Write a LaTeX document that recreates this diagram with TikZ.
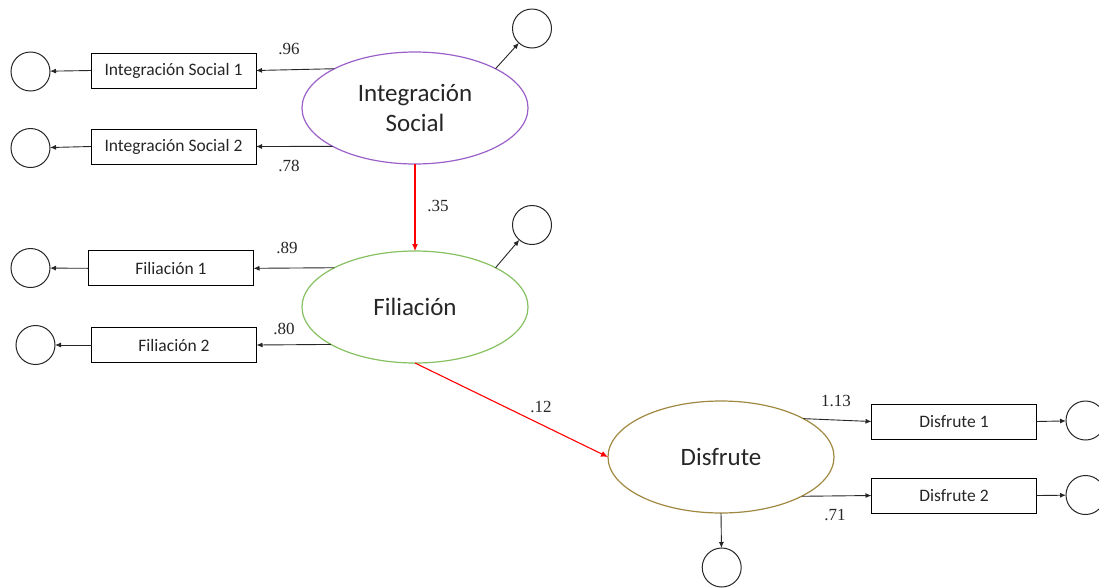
\documentclass[tikz,border=0pt]{standalone}
\usepackage{fontspec}
\newfontfamily\calfont{Carlito}
\newfontfamily\numfont{Liberation Serif}
\usetikzlibrary{shapes.geometric,arrows.meta}

\definecolor{islat}{HTML}{9A5FC8}
\definecolor{fillat}{HTML}{86C060}
\definecolor{dislat}{HTML}{A08840}
\definecolor{ink}{HTML}{262626}

\tikzset{
  latent/.style={ellipse, draw, line width=1.2pt, minimum width=226pt, minimum height=112pt,
    inner sep=0pt, outer sep=0pt, text=ink, align=center,
    font=\calfont\fontsize{25}{30.5}\selectfont},
  indicator/.style={rectangle, draw=black, line width=0.9pt, minimum width=165pt,
    minimum height=35pt, inner sep=0pt, outer sep=0pt, text=ink,
    font=\calfont\fontsize{17.5}{21}\selectfont},
  errterm/.style={circle, draw=ink, line width=1pt, minimum size=39pt, inner sep=0pt, outer sep=0pt},
  load/.style={draw=ink, line width=0.9pt, -{Latex[length=6pt,width=5pt]}},
  regpath/.style={draw=red, line width=1.1pt, -{Latex[length=7pt,width=6pt]}},
  coef/.style={text=ink, font=\numfont\fontsize{17}{20}\selectfont, inner sep=0pt},
}

\begin{document}
\begin{tikzpicture}[x=1pt,y=-1pt]
\useasboundingbox (0,0) rectangle (1099,587);

% latent factors
\node[latent, draw=islat]  (is)  at (415,108) {Integración\\Social};
\node[latent, draw=fillat] (fil) at (415,307) {Filiación};
\node[latent, draw=dislat] (dis) at (721,457) {Disfrute};

% observed indicators
\node[indicator] (is1)  at (173.5,70.5)  {Integración Social 1};
\node[indicator] (is2)  at (173.5,146.5) {Integración Social 2};
\node[indicator] (fil1) at (171,268.3)   {Filiación 1};
\node[indicator] (fil2) at (174,345)     {Filiación 2};
\node[indicator] (d1)   at (954,421.5)   {Disfrute 1};
\node[indicator] (d2)   at (954,495.5)   {Disfrute 2};

% error terms
\node[errterm] (e-is1)  at (30.5,71.5)   {};
\node[errterm] (e-is2)  at (30.5,148)    {};
\node[errterm] (e-fil1) at (30.5,268)    {};
\node[errterm] (e-fil2) at (35.5,345)    {};
\node[errterm] (e-d1)   at (1085.5,420.5) {};
\node[errterm] (e-d2)   at (1085.5,495)  {};
\node[errterm] (z-is)   at (532,28.5)    {};
\node[errterm] (z-fil)  at (532,225)     {};
\node[errterm] (z-dis)  at (721.7,567.5) {};

% factor loadings
\draw[load] (is.154.3)  -- (is1.east);
\draw[load] (is.205.6)  -- (is2.east);
\draw[load] (fil.154.2) -- (fil1.east);
\draw[load] (fil.204.9) -- (fil2.east);
\draw[load] (dis.25.6)  -- (d1.west);
\draw[load] (dis.-26.5) -- (d2.west);

% indicator residuals
\draw[load] (is1.west)  -- (e-is1);
\draw[load] (is2.west)  -- (e-is2);
\draw[load] (fil1.west) -- (e-fil1);
\draw[load] (fil2.west) -- (e-fil2);
\draw[load] (d1.east)   -- (e-d1);
\draw[load] (d2.east)   -- (e-d2);

% factor disturbances
\draw[load] (is.26)   -- (z-is);
\draw[load] (fil.26.6) -- (z-fil);
\draw[load] (dis.south) -- (z-dis);

% structural paths
\draw[regpath] (is.south)  -- (fil.north);
\draw[regpath] (fil.south) -- (dis.west);

% coefficients
\node[coef] (c-is1)  at (289,49)    {.96};
\node[coef] (c-is2)  at (289,165.5) {.78};
\node[coef] (c-fil1) at (287,247.5) {.89};
\node[coef] (c-fil2) at (284,329)   {.80};
\node[coef] (c-d1)   at (836,400.5) {1.13};
\node[coef] (c-d2)   at (835,515)   {.71};
\node[coef] (c-isfil)  at (438,206) {.35};
\node[coef] (c-fildis) at (541,407) {.12};
\end{tikzpicture}
\end{document}
